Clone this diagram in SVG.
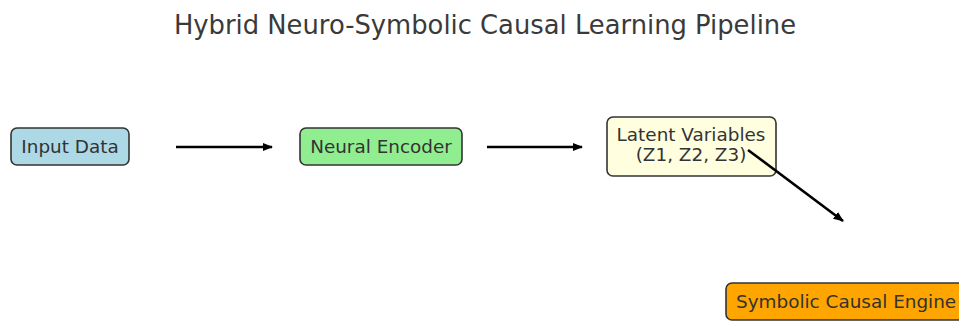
<svg xmlns="http://www.w3.org/2000/svg" width="959" height="322" viewBox="0 0 959 322">
<defs>
<style>
text{font-family:"DejaVu Sans",sans-serif;fill:#333}
.title{font-size:25.8px;fill:#3a3a3a}
.lbl{font-size:18.4px}
.box{stroke:#333;stroke-width:1.6}
.edge{stroke:#000;stroke-width:2.6;fill:none}
</style>
<marker id="ah" viewBox="0 0 10 10" refX="9" refY="5" markerWidth="4" markerHeight="4" orient="auto" markerUnits="strokeWidth">
<path d="M0,1 L10,5 L0,9 Z" fill="#000"/>
</marker>
</defs>
<rect width="959" height="322" fill="#fff"/>
<text class="title" x="485" y="34" text-anchor="middle">Hybrid Neuro-Symbolic Causal Learning Pipeline</text>
<g id="input">
<rect class="box" x="11" y="128" width="118" height="37" rx="6" fill="#add8e6"/>
<text class="lbl" x="70" y="153" text-anchor="middle">Input Data</text>
</g>
<g id="encoder">
<rect class="box" x="300" y="128" width="162" height="37" rx="6" fill="#90ee90"/>
<text class="lbl" x="381" y="153" text-anchor="middle">Neural Encoder</text>
</g>
<g id="latent">
<rect class="box" x="607" y="117" width="169" height="59" rx="6" fill="#ffffe0"/>
<text class="lbl" x="691" y="141" text-anchor="middle">Latent Variables</text>
<text class="lbl" x="691" y="161" text-anchor="middle">(Z1, Z2, Z3)</text>
</g>
<g id="symbolic">
<rect class="box" x="726" y="283" width="250" height="37" rx="6" fill="#ffa500"/>
<text class="lbl" x="736" y="308">Symbolic Causal Engine</text>
</g>
<g id="connectors">
<line class="edge" x1="176" y1="147" x2="272" y2="147" marker-end="url(#ah)"/>
<line class="edge" x1="487" y1="147" x2="582" y2="147" marker-end="url(#ah)"/>
<line class="edge" x1="748" y1="150" x2="843" y2="221" marker-end="url(#ah)"/>
</g>
</svg>
